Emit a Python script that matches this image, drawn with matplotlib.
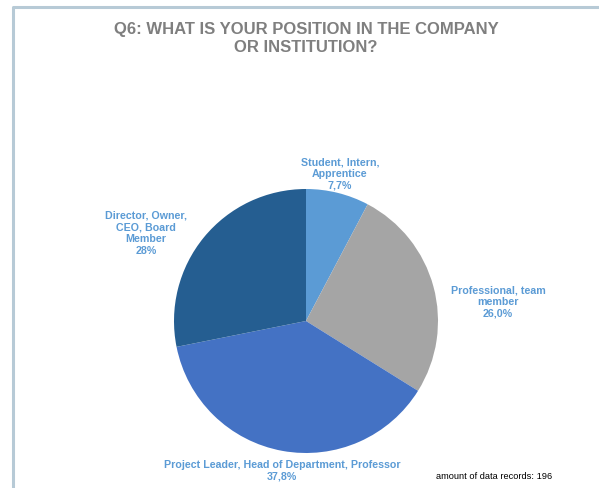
import matplotlib
matplotlib.use("Agg")
import matplotlib.pyplot as plt

plt.rcParams['font.family'] = ['Liberation Sans', 'DejaVu Sans']

# data
categories = ["Student, Intern,\nApprentice", "Professional, team\nmember",
              "Project Leader, Head of Department, Professor", "Director, Owner,\nCEO, Board\nMember"]
values = [7.7, 26.0, 37.8, 28.0]
pct_labels = ["7,7%", "26,0%", "37,8%", "28%"]
colors = ['#5B9BD5', '#A5A5A5', '#4472C4', '#255E91']

W, H = 599, 489
fig = plt.figure(figsize=(W / 100, H / 100), dpi=100)
ax = fig.add_axes([0, 0, 1, 1])

# frame of the chart area
ax.plot([12.5, 12.5, W], [0, H - 7.5, H - 7.5], color='#B7CAD6', lw=2.2, solid_capstyle='butt')

ax.pie(values, colors=colors, startangle=90, counterclock=False,
       center=(306, H - 322), radius=132,
       wedgeprops=dict(linewidth=0), frame=True)
ax.set_xlim(0, W)
ax.set_ylim(0, H)
ax.set_aspect('equal')
ax.axis('off')

ax.text(306, H - 39, "Q6: WHAT IS YOUR POSITION IN THE COMPANY\nOR INSTITUTION?",
        ha='center', va='center', fontsize=12, fontweight='bold', color='#7F7F7F',
        linespacing=1.25)

label_pos = [(340, 174), (498, 302), (282, 471), (146, 233)]
for (x, y), cat, p in zip(label_pos, categories, pct_labels):
    ax.text(x, H - y, cat + "\n" + p, ha='center', va='center', fontsize=7.7,
            fontweight='bold', color='#5B9BD5', linespacing=1.22)

ax.text(436, H - 477, "amount of data records: 196", ha='left', va='center',
        fontsize=6.7, color='black')

fig.savefig("out.png", dpi=100)
